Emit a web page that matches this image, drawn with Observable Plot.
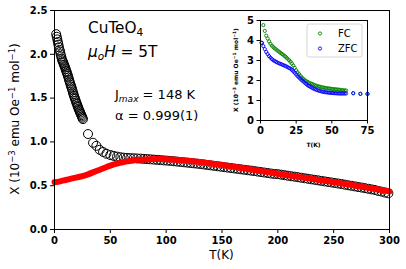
<!DOCTYPE html>
<html><head><meta charset="utf-8">
<script src="https://cdn.jsdelivr.net/npm/d3@7"></script>
<script src="https://cdn.jsdelivr.net/npm/@observablehq/plot@0.6"></script>
<style>
body{margin:0;background:#fff;}
#wrap{position:relative;width:406px;height:269px;font-family:"DejaVu Sans",sans-serif;}
#wrap svg{position:absolute;overflow:visible;}
g[aria-label$="tick label"] text{font-weight:bold;}
</style></head>
<body><div id="wrap"></div>
<script>
// Main panel: open circles (measured chi) — low-T dense chain
const lowT = [1.5,2,2.5,3,3.5,4,4.5,5,5.5,6,6.5,7,7.5,8,8.5,9,9.5,10,10.5,11,11.5,12,12.5,13,13.5,14,14.5,15,15.5,16,16.5,17,17.5,18,18.5,19,19.5,20,20.5,21,21.5,22,22.5,23,23.5,24,24.5,25,25.5,
  30,34.5,37.5,40.5,43.5,46.5];
const lowChi = [2.23,2.20,2.17,2.14,2.11,2.08,2.05,2.03,2.00,1.975,1.95,1.93,1.915,1.90,1.88,1.865,1.85,1.83,1.81,1.795,1.775,1.755,1.735,1.71,1.69,1.67,1.65,1.63,1.61,1.59,1.565,1.545,1.525,1.505,1.49,1.47,1.45,1.435,1.415,1.40,1.38,1.365,1.35,1.335,1.32,1.305,1.29,1.275,1.26,
  1.09,0.99,0.955,0.91,0.885,0.865];
const highT = [50,53,56,59,62,65,68,71,74,77,80,83,86,89,92,95,98,101,104,107,110,113,116,119,122,125,128,131,134,137,140,143,146,149,152,155,158,161,164,167,170,173,176,179,182,185,188,191,194,197,200,203,206,209,212,215,218,221,224,227,230,233,236,239,242,245,248,251,254,257,260,263,266,269,272,275,278,281,284,287,290,293,296,299];
const highChi = [0.85,0.84,0.832,0.825,0.82,0.817,0.815,0.813,0.811,0.809,0.806,0.804,0.801,0.798,0.795,0.792,0.789,0.786,0.783,0.779,0.775,0.771,0.767,0.763,0.759,0.755,0.751,0.747,0.742,0.737,0.732,0.727,0.722,0.717,0.712,0.707,0.702,0.697,0.692,0.687,0.682,0.677,0.672,0.667,0.661,0.656,0.650,0.645,0.639,0.634,0.632,0.626,0.620,0.614,0.608,0.603,0.597,0.591,0.585,0.579,0.573,0.567,0.561,0.555,0.549,0.543,0.537,0.531,0.525,0.519,0.512,0.505,0.499,0.492,0.485,0.479,0.472,0.465,0.458,0.451,0.440,0.432,0.422,0.413];
// Red fit curve
const fitT = [0,5,10,15,20,25,30,35,40,45,50,55,60,65,70,75,80,85,90,95,100,105,110,115,120,125,130,135,140,145,150,155,160,165,170,175,180,185,190,195,200,205,210,215,220,225,230,235,240,245,250,255,260,265,270,275,280,285,290,295,300];
const fitChi = [0.54,0.55,0.565,0.58,0.595,0.61,0.63,0.655,0.68,0.705,0.73,0.75,0.765,0.778,0.788,0.795,0.80,0.803,0.805,0.805,0.803,0.80,0.795,0.79,0.784,0.777,0.77,0.762,0.754,0.745,0.736,0.727,0.718,0.708,0.698,0.688,0.678,0.668,0.658,0.648,0.635,0.626,0.617,0.607,0.598,0.588,0.579,0.569,0.559,0.55,0.54,0.53,0.52,0.51,0.499,0.489,0.478,0.467,0.457,0.446,0.435];
const xTicks = [0,50,100,150,200,250,300];
const yTicks = [0,0.5,1.0,1.5,2.0,2.5];

// Inset: FC and ZFC
const fcT = [2,3,4,5,6,7,8,9,10,11,12,13,14,15,16,17,18,19,20,21,22,23,24,25,26,27,28,29,30,31,32,33,34,35,36,37,38,39,40,41,42,43,44,45,46,47,48,49,50,51,52,53,54,55,56,57,58,59,60,65,70,75];
const fcChi = [4.77,4.48,4.24,4.10,3.96,3.83,3.74,3.67,3.60,3.55,3.49,3.44,3.38,3.33,3.28,3.22,3.16,3.09,3.02,2.94,2.85,2.75,2.63,2.51,2.41,2.32,2.23,2.15,2.08,2.02,1.97,1.93,1.89,1.86,1.83,1.80,1.77,1.74,1.72,1.70,1.68,1.66,1.65,1.63,1.62,1.61,1.60,1.59,1.58,1.57,1.565,1.555,1.55,1.54,1.53,1.52,1.51,1.505,1.50,1.37,1.34,1.33];
const zfcT = [0.7,1,2,3,4,5,6,7,8,9,10,11,12,13,14,15,16,17,18,19,20,21,22,23,24,25,26,27,28,29,30,31,32,33,34,35,36,37,38,39,40,41,42,43,44,45,46,47,48,49,50,51,52,53,54,55,56,57,58,59,60,65,70,75];
const zfcChi = [3.89,3.88,3.72,3.57,3.43,3.32,3.22,3.14,3.07,3.01,2.97,2.93,2.89,2.86,2.83,2.80,2.77,2.74,2.71,2.67,2.63,2.59,2.53,2.46,2.38,2.30,2.22,2.15,2.08,2.01,1.95,1.89,1.83,1.77,1.72,1.68,1.64,1.60,1.57,1.54,1.51,1.49,1.47,1.45,1.43,1.42,1.41,1.40,1.39,1.38,1.375,1.37,1.365,1.36,1.355,1.35,1.35,1.35,1.35,1.35,1.35,1.36,1.33,1.33];
const insetXTicks = [0,25,50,75];
const insetYTicks = [0,1,2,3,4,5];

const circles = lowT.map((t,i)=>({T:t,chi:lowChi[i]})).concat(highT.map((t,i)=>({T:t,chi:highChi[i]})));
const fit = fitT.map((t,i)=>({T:t,chi:fitChi[i]}));
const fc = fcT.map((t,i)=>({T:t,chi:fcChi[i]}));
const zfc = zfcT.map((t,i)=>({T:t,chi:zfcChi[i]}));

const wrap = document.getElementById("wrap");
const font = {fontFamily:"DejaVu Sans, sans-serif", color:"black", background:"none"};

const main = Plot.plot({
  width:406, height:269, marginLeft:54, marginRight:17, marginTop:10, marginBottom:40,
  style:{...font, fontSize:"10px"},
  x:{domain:[0,300]}, y:{domain:[0,2.5]},
  marks:[
    Plot.axisX({ticks:xTicks, tickSize:4, tickPadding:3, label:null, fontSize:10}),
    Plot.axisY({ticks:yTicks, tickSize:4, tickPadding:3, tickFormat:d3.format(".1f"), label:null, fontSize:10}),
    Plot.dot(circles, {x:"T", y:"chi", r:4.5, stroke:"black", fill:"none", strokeWidth:1}),
    Plot.line(fit, {x:"T", y:"chi", stroke:"#ff0000", strokeWidth:6, strokeLinecap:"round", curve:"catmull-rom"}),
    Plot.frame({stroke:"black", strokeWidth:1})
  ]
});
main.style.left="0px"; main.style.top="0px";
wrap.appendChild(main);

const ms = d3.select(main);
// axis labels
ms.append("text").attr("x",221.5).attr("y",259).attr("text-anchor","middle").attr("font-size",12).attr("fill","black").text("T(K)");
const yl = ms.append("text").attr("transform","translate(19,119) rotate(-90)").attr("text-anchor","middle").attr("font-size",12).attr("fill","black");
yl.append("tspan").text("X (10");
yl.append("tspan").attr("dy",-4).attr("font-size",8.5).text("−3");
yl.append("tspan").attr("dy",4).text(" emu Oe");
yl.append("tspan").attr("dy",-4).attr("font-size",8.5).text("−1");
yl.append("tspan").attr("dy",4).text(" mol");
yl.append("tspan").attr("dy",-4).attr("font-size",8.5).text("−1");
yl.append("tspan").attr("dy",4).text(")");
// annotations
const t1 = ms.append("text").attr("x",88).attr("y",33).attr("text-anchor","start").attr("font-size",15.3).attr("fill","black");
t1.append("tspan").text("CuTeO");
t1.append("tspan").attr("dy",3).attr("font-size",10.5).text("4");
const t2 = ms.append("text").attr("x",88).attr("y",57).attr("text-anchor","start").attr("font-size",15.3).attr("fill","black");
t2.append("tspan").attr("font-style","italic").text("μ");
t2.append("tspan").attr("font-style","italic").attr("dy",3).attr("font-size",10.5).text("o");
t2.append("tspan").attr("font-style","italic").attr("dy",-3).text("H");
t2.append("tspan").text(" = 5T");
const t3 = ms.append("text").attr("x",115).attr("y",99).attr("text-anchor","start").attr("font-size",13).attr("fill","black");
t3.append("tspan").text("J");
t3.append("tspan").attr("font-style","italic").attr("dy",2.5).attr("font-size",9).text("max");
t3.append("tspan").attr("dy",-2.5).text(" = 148 K");
ms.append("text").attr("x",115).attr("y",120).attr("text-anchor","start").attr("font-size",13).attr("fill","black").text("α = 0.999(1)");

// inset
const inset = Plot.plot({
  width:150, height:150, marginLeft:34, marginRight:9, marginTop:10, marginBottom:40,
  style:{...font, fontSize:"10px"},
  x:{domain:[0,75]}, y:{domain:[0,5]},
  marks:[
    Plot.frame({fill:"white", stroke:"none"}),
    Plot.axisX({ticks:insetXTicks, tickSize:3.5, tickPadding:3, tickFormat:d3.format("d"), label:null, fontSize:10}),
    Plot.axisY({ticks:insetYTicks, tickSize:3.5, tickPadding:3, tickFormat:d3.format("d"), label:null, fontSize:10}),
    Plot.dot(fc, {x:"T", y:"chi", r:1.6, stroke:"green", fill:"none", strokeWidth:0.9}),
    Plot.dot(zfc, {x:"T", y:"chi", r:1.6, stroke:"blue", fill:"none", strokeWidth:0.9}),
    Plot.frame({stroke:"black", strokeWidth:1})
  ]
});
inset.style.left="226px"; inset.style.top="10px";
wrap.appendChild(inset);
const is = d3.select(inset);
is.append("text").attr("x",87.5).attr("y",137).attr("text-anchor","middle").attr("font-size",6).attr("font-weight","bold").attr("fill","black").text("T(K)");
const iyl = is.append("text").attr("transform","translate(12,60) rotate(-90)").attr("text-anchor","middle").attr("font-size",6).attr("font-weight","bold").attr("fill","black");
iyl.append("tspan").text("X (10");
iyl.append("tspan").attr("dy",-2).attr("font-size",4.5).text("−3");
iyl.append("tspan").attr("dy",2).text(" emu Oe");
iyl.append("tspan").attr("dy",-2).attr("font-size",4.5).text("−1");
iyl.append("tspan").attr("dy",2).text(" mol");
iyl.append("tspan").attr("dy",-2).attr("font-size",4.5).text("−1");
iyl.append("tspan").attr("dy",2).text(")");
// legend
const lg = is.append("g").attr("transform","translate(81,14)");
lg.append("rect").attr("width",55).attr("height",33).attr("rx",2).attr("fill","white").attr("fill-opacity",0.8).attr("stroke","#cccccc").attr("stroke-width",0.8);
const legendItems = [{name:"FC", color:"green"},{name:"ZFC", color:"blue"}];
legendItems.forEach((d,i)=>{
  lg.append("circle").attr("cx",13).attr("cy",9.5+i*15).attr("r",1.6).attr("fill","none").attr("stroke",d.color).attr("stroke-width",0.9);
  lg.append("text").attr("x",31).attr("y",13+i*15).attr("text-anchor","start").attr("font-size",10).attr("fill","black").text(d.name);
});
</script></body></html>
